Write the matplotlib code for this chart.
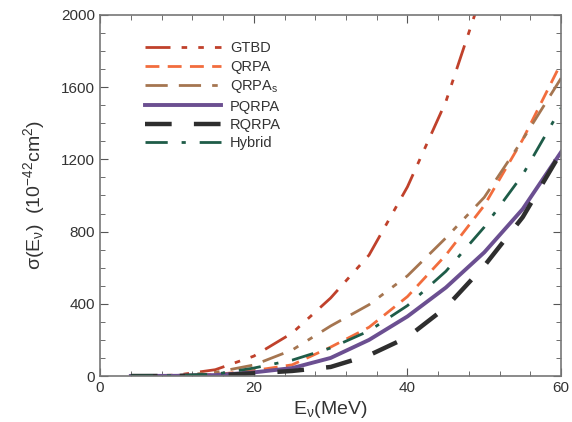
import matplotlib
matplotlib.use("Agg")
import matplotlib.pyplot as plt
from matplotlib.ticker import MultipleLocator

plt.rcParams['font.family'] = ['Liberation Sans', 'DejaVu Sans']
plt.rcParams['mathtext.fontset'] = 'custom'
plt.rcParams['mathtext.rm'] = 'Liberation Sans'
plt.rcParams['mathtext.it'] = 'Liberation Sans'

E = [4, 10, 15, 20, 25, 30, 35, 40, 45, 50, 55, 60]
E_gtbd = [4, 10, 15, 20, 25, 30, 35, 40, 45, 50]
gtbd = [0, 5, 35, 110, 238, 432, 670, 1048, 1520, 2160]
qrpa = [0, 2, 8, 30, 62, 160, 270, 440, 670, 945, 1310, 1734]
qrpas = [0, 3, 20, 61, 144, 277, 395, 555, 765, 990, 1310, 1650]
pqrpa = [0, 1, 5, 20, 44, 100, 200, 330, 490, 685, 925, 1241]
rqrpa = [0, 0, 3, 15, 28, 50, 115, 215, 380, 610, 880, 1240]
hybrid = [0, 2, 10, 44, 88, 155, 250, 390, 580, 825, 1115, 1485]

fig = plt.figure(figsize=(5.72, 4.22), dpi=100)
ax = fig.add_axes([0.175, 0.109, 0.806, 0.8555])

ax.plot(E_gtbd, gtbd, color='#c0412b', lw=2.0, ls=(0, (9, 4, 2, 4, 2, 4)), label='GTBD')
ax.plot(E, qrpa, color='#f26d3d', lw=2.0, ls=(0, (5, 3)), label='QRPA')
ax.plot(E, qrpas, color='#a57550', lw=2.0, ls=(0, (8, 4, 8, 4, 2, 4, 2, 4)), label='QRPA$_\\mathrm{s}$')
ax.plot(E, pqrpa, color='#6b4f91', lw=2.8, ls='-', label='PQRPA')
ax.plot(E, rqrpa, color='#2e2e2e', lw=3.2, ls=(0, (6, 5)), label='RQRPA')
ax.plot(E, hybrid, color='#1e5c48', lw=2.0, ls=(0, (8, 5, 1.5, 5)), label='Hybrid')

ax.set_xlim(0, 60)
ax.set_ylim(0, 2000)
ax.xaxis.set_major_locator(MultipleLocator(20))
ax.xaxis.set_minor_locator(MultipleLocator(4))
ax.yaxis.set_major_locator(MultipleLocator(400))
ax.yaxis.set_minor_locator(MultipleLocator(100))
ax.tick_params(which='both', direction='in', top=True, right=True, colors='#555555',
               labelcolor='#333333', labelsize=11)
ax.tick_params(which='major', length=6)
ax.tick_params(which='minor', length=3.5)
for s in ax.spines.values():
    s.set_color('#777777')
    s.set_linewidth(1.2)

ax.set_xlabel('E$_\\nu$(MeV)', fontsize=14, color='#333333', labelpad=3)
ax.set_ylabel('σ(E$_\\nu$)  (10$^{-42}$cm$^2$)', fontsize=14, color='#333333', labelpad=10)

leg = ax.legend(loc='upper left', bbox_to_anchor=(0.07, 0.963), frameon=False,
                fontsize=10.5, handlelength=5.2, labelspacing=0.3, handletextpad=0.6)
for t in leg.get_texts():
    t.set_color('#333333')

fig.savefig('out.png', dpi=100)
